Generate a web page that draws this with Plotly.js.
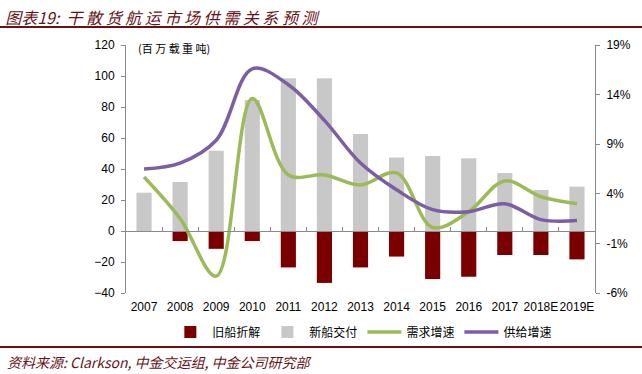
<!DOCTYPE html>
<html>
<head>
<meta charset="utf-8">
<script src="https://cdn.plot.ly/plotly-3.0.1.min.js"></script>
<style>html,body{margin:0;padding:0;background:#fff}#chart{width:642px;height:374px}</style>
</head>
<body>
<div id="chart"></div>
<script>
const categories = ["2007","2008","2009","2010","2011","2012","2013","2014","2015","2016","2017","2018E","2019E"];
const scrapping = [0, -6.5, -11.5, -6.5, -23.5, -33.5, -23.5, -16.5, -31, -29.5, -15.5, -15.5, -18.3];
const deliveries = [24.7, 31.6, 51.8, 84.5, 98.5, 98.5, 62.6, 47.5, 48.4, 46.9, 37.4, 26.5, 28.6];
const demandGrowth = [5.7, 1.5, -4.3, 13.6, 5.9, 5.9, 4.9, 6.1, 0.6, 2.2, 5.3, 3.7, 3.0];
const supplyGrowth = [6.5, 7.1, 9.4, 16.6, 15.0, 11.4, 7.1, 4.4, 2.4, 2.2, 3.0, 1.4, 1.3];
const seriesNames = ["旧船折解", "新船交付", "需求增速", "供给增速"];
const leftTicks = [-40, -20, 0, 20, 40, 60, 80, 100, 120];
const rightTicks = [-6, -1, 4, 9, 14, 19];

const cjk = '"Noto Sans CJK SC", "Noto Sans", sans-serif';
const latin = '"Liberation Sans", Arial, sans-serif';
const maroon = '#6b1017';

const traces = [
  {type:'bar', name:seriesNames[0], x:categories, y:scrapping, marker:{color:'#7a0000'}, width:0.42, xaxis:'x', yaxis:'y'},
  {type:'bar', name:seriesNames[1], x:categories, y:deliveries, marker:{color:'#c8c8c8'}, width:0.42, xaxis:'x', yaxis:'y'},
  {type:'scatter', mode:'lines', name:seriesNames[2], x:categories, y:demandGrowth, line:{color:'#9bbb59', width:3.5, shape:'spline', smoothing:1}, xaxis:'x2', yaxis:'y2'},
  {type:'scatter', mode:'lines', name:seriesNames[3], x:categories, y:supplyGrowth, line:{color:'#7b5ea3', width:3.5, shape:'spline', smoothing:1}, xaxis:'x2', yaxis:'y2'}
];

const layout = {
  width:642, height:374,
  margin:{l:126, r:47, t:45, b:81, pad:0},
  paper_bgcolor:'#fff', plot_bgcolor:'#fff',
  barmode:'relative',
  showlegend:true,
  title:{text:'图表19:  干 散 货 航 运 市 场 供 需 关 系 预 测', x:0.008, xanchor:'left', xref:'container', y:0.952, yanchor:'middle', yref:'container',
         font:{family:cjk, size:16, color:maroon, style:'italic'}},
  xaxis:{type:'category', categoryorder:'array', categoryarray:categories, range:[-0.5,12.5],
         showline:false, ticks:'', showgrid:false, zeroline:false, tickangle:0,
         tickfont:{family:latin, size:12, color:'#000'}, ticklabelstandoff:5},
  xaxis2:{type:'category', categoryorder:'array', categoryarray:categories, range:[-0.5,12.5],
          overlaying:'x', anchor:'free', position:0.25, side:'bottom',
          showline:true, linecolor:'#8a8a8a', linewidth:1, ticks:'inside', ticklen:4, tickcolor:'#8a8a8a', tickson:'boundaries',
          showticklabels:false, showgrid:false, zeroline:false},
  yaxis:{range:[-40,120], tickvals:leftTicks, showline:true, linecolor:'#8a8a8a', linewidth:1, ticks:'outside', ticklen:4, tickcolor:'#8a8a8a',
         showgrid:false, zeroline:false, tickfont:{family:latin, size:12, color:'#000'}, ticklabelstandoff:4},
  yaxis2:{range:[-6,19], tickvals:rightTicks, ticktext:rightTicks.map(v=>v+'%'), overlaying:'y', side:'right', anchor:'x',
          showline:true, linecolor:'#8a8a8a', linewidth:1, ticks:'outside', ticklen:4, tickcolor:'#8a8a8a',
          showgrid:false, zeroline:false, tickfont:{family:latin, size:12, color:'#000'}, ticklabelstandoff:4},
  legend:{orientation:'h', x:0.505, xanchor:'center', y:-0.157, yanchor:'middle', font:{family:cjk, size:12, color:'#000'},
          traceorder:'normal', itemwidth:34, bgcolor:'rgba(0,0,0,0)'},
  annotations:[
    {text:'(百 万 载 重 吨)', xref:'paper', yref:'paper', x:(136-126)/469, y:(293-48)/248, xanchor:'left', yanchor:'middle', showarrow:false,
     font:{family:cjk, size:11, color:'#000'}},
    {text:'资料来源: Clarkson, 中金交运组, 中金公司研究部', xref:'paper', yref:'paper', x:(5-126)/469, y:(293-362)/248, xanchor:'left', yanchor:'middle', showarrow:false,
     font:{family:cjk, size:14, color:maroon, style:'italic'}}
  ],
  shapes:[
    {type:'line', xref:'paper', yref:'paper', x0:-126/469, x1:516/469, y0:(293-27)/248, y1:(293-27)/248, line:{color:maroon, width:2}},
    {type:'line', xref:'paper', yref:'paper', x0:-126/469, x1:516/469, y0:(293-347)/248, y1:(293-347)/248, line:{color:maroon, width:2}}
  ]
};

Plotly.newPlot('chart', traces, layout, {displayModeBar:false, staticPlot:true});
</script>
</body>
</html>
